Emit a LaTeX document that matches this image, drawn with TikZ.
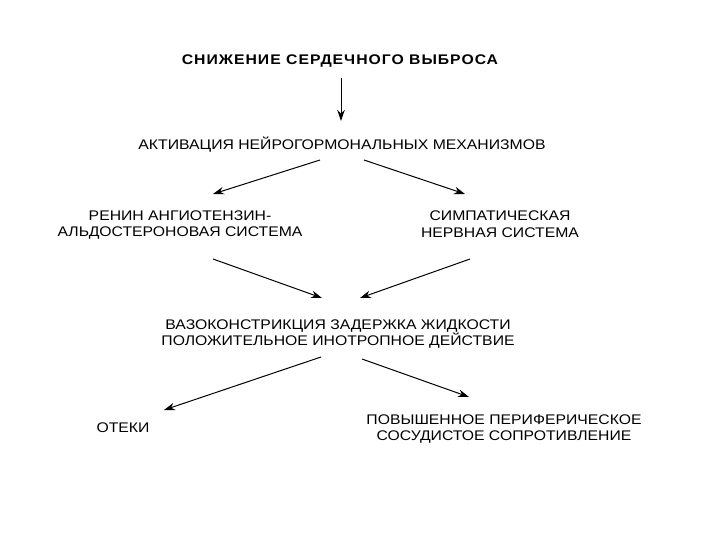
\documentclass[tikz,border=0pt]{standalone}
\usepackage{fontspec}
\setmainfont{Liberation Sans}[FakeStretch=1.13]
\usetikzlibrary{arrows.meta}

\begin{document}
\begin{tikzpicture}[x=1bp, y=-1bp,
    lbl/.style={inner sep=0pt, align=center, font=\fontsize{14}{17}\selectfont},
    ttl/.style={inner sep=0pt, font=\fontsize{14}{17}\selectfont\bfseries\addfontfeatures{LetterSpace=7}},
    arr/.style={-{Stealth[length=11pt, width=7.5pt]}, line width=1pt}]
  \useasboundingbox (0,0) rectangle (720,540);
  \node[ttl] (title) at (340,61) {СНИЖЕНИЕ СЕРДЕЧНОГО ВЫБРОСА};
  \node[lbl] (act) at (342,145) {АКТИВАЦИЯ НЕЙРОГОРМОНАЛЬНЫХ МЕХАНИЗМОВ};
  \node[lbl] (raas) at (180,225) {РЕНИН АНГИОТЕНЗИН-\\АЛЬДОСТЕРОНОВАЯ СИСТЕМА};
  \node[lbl] (sns) at (500,224) {СИМПАТИЧЕСКАЯ\\НЕРВНАЯ СИСТЕМА};
  \node[lbl] (vaso) at (338,334) {ВАЗОКОНСТРИКЦИЯ ЗАДЕРЖКА ЖИДКОСТИ\\ПОЛОЖИТЕЛЬНОЕ ИНОТРОПНОЕ ДЕЙСТВИЕ};
  \node[lbl] (oteki) at (123,428) {ОТЕКИ};
  \node[lbl] (pov) at (504,429) {ПОВЫШЕННОЕ ПЕРИФЕРИЧЕСКОЕ\\СОСУДИСТОЕ СОПРОТИВЛЕНИЕ};

  \draw[arr] ([shift={(1,17)}]title.center) -- ([shift={(-1,-24)}]act.center);
  \draw[arr] ([shift={(-22,15)}]act.center) -- ([shift={(33,-31)}]raas.center);
  \draw[arr] ([shift={(22,15)}]act.center) -- ([shift={(-35,-30)}]sns.center);
  \draw[arr] ([shift={(33,34)}]raas.center) -- ([shift={(-16,-36)}]vaso.center);
  \draw[arr] ([shift={(-30,35)}]sns.center) -- ([shift={(22,-36)}]vaso.center);
  \draw[arr] ([shift={(-17,23)}]vaso.center) -- ([shift={(41,-18)}]oteki.center);
  \draw[arr] ([shift={(24,25)}]vaso.center) -- ([shift={(-35,-32)}]pov.center);
\end{tikzpicture}
\end{document}
